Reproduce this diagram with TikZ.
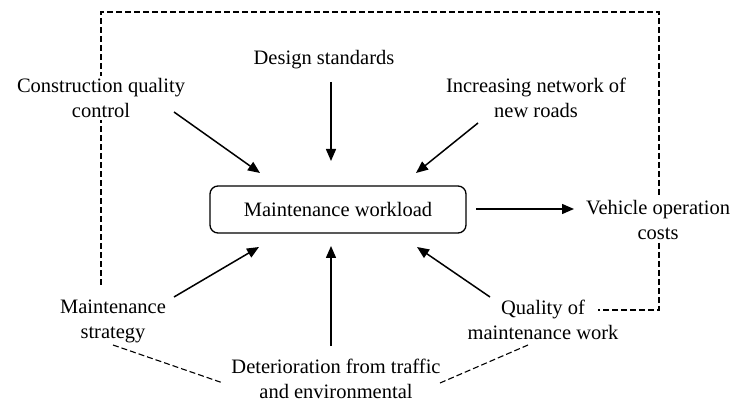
\documentclass[tikz,border=0pt]{standalone}
\usepackage{fontspec}
\setmainfont{Liberation Serif}
\usetikzlibrary{arrows.meta}
\begin{document}
\begin{tikzpicture}[x=1pt,y=-1pt,
  lbl/.style={align=center,fill=white,inner sep=2pt,font=\fontsize{20.5}{25}\selectfont},
  arr/.style={line width=1.5pt,-{Triangle[length=12pt,width=10pt]}},
  dsh/.style={line width=1.1pt,dash pattern=on 6pt off 3pt}]
\useasboundingbox (0,0) rectangle (736,403);
% dashed loop
\coordinate (l1) at (101,285);
\coordinate (l2) at (101,12);
\coordinate (l3) at (659,12);
\coordinate (l4) at (659,310);
\coordinate (l5) at (598,310);
\draw[dsh] (l1) -- (l2) -- (l3) -- (l4) -- (l5);
% nodes
\node[draw,rounded corners=8pt,line width=1.3pt,minimum width=256pt,minimum height=47pt,font=\fontsize{20.5}{25}\selectfont] (box) at (338,209.5) {Maintenance workload};
\node[lbl] (design) at (324,60) {Design standards};
\node[lbl] (cons) at (101,98) {Construction quality\\control};
\node[lbl] (incr) at (536,98) {Increasing network of\\new roads};
\node[lbl] (strat) at (113,321) {Maintenance\\strategy};
\node[lbl,fill=none] (qual) at (543,320) {Quality of\\maintenance work};
\node[lbl] (det) at (336,379) {Deterioration from traffic\\and environmental};
\node[lbl] (veh) at (658,220) {Vehicle operation\\costs};
% bottom dashed links
\coordinate (d1) at (113,345);
\coordinate (d2) at (223,383);
\coordinate (d3) at (440,383);
\coordinate (d4) at (528,345);
\draw[dsh] (d1) -- (d2);
\draw[dsh] (d3) -- (d4);
% arrows
\coordinate (a1) at (331,82);  \coordinate (b1) at (331,161);
\coordinate (a2) at (174,112); \coordinate (b2) at (260,173);
\coordinate (a3) at (478,123); \coordinate (b3) at (416,173);
\coordinate (a4) at (174,297); \coordinate (b4) at (259,247);
\coordinate (a5) at (331,346); \coordinate (b5) at (331,246);
\coordinate (a6) at (490,297); \coordinate (b6) at (417,247);
\coordinate (a7) at (476,209); \coordinate (b7) at (574,209);
\draw[arr] (a1) -- (b1);
\draw[arr] (a2) -- (b2);
\draw[arr] (a3) -- (b3);
\draw[arr] (a4) -- (b4);
\draw[arr] (a5) -- (b5);
\draw[arr] (a6) -- (b6);
\draw[arr] (a7) -- (b7);
\end{tikzpicture}
\end{document}
